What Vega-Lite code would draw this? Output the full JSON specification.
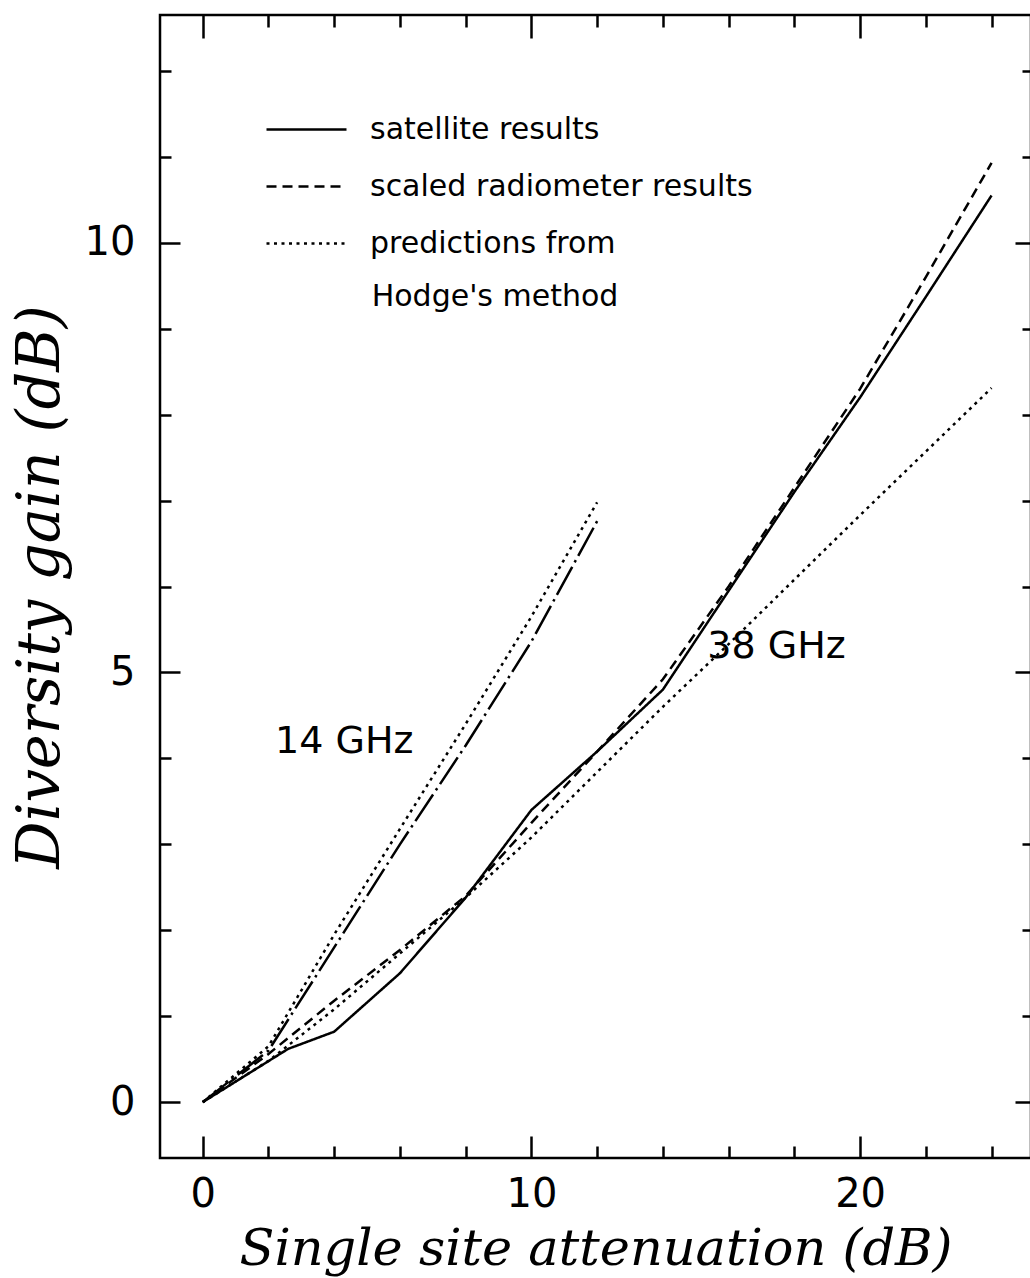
{
  "$schema": "https://vega.github.io/schema/vega-lite/v6.json",
  "width": 871,
  "height": 1143,
  "autosize": {"type": "none"},
  "padding": {"left": 160, "top": 15, "right": 0, "bottom": 120},
  "background": "white",
  "config": {
    "view": {"stroke": "black", "strokeWidth": 2.5},
    "axis": {"grid": false, "domain": false, "tickColor": "black", "tickWidth": 2.5, "labelColor": "black", "titleColor": "black", "labelFlush": false, "labelOverlap": false}
  },
  "resolve": {"axis": {"x": "independent", "y": "independent"}},
  "layer": [
    {
      "data": {"values": [
        {"freq": "38 GHz", "series": "satellite results", "atten": 0, "gain": 0},
        {"freq": "38 GHz", "series": "satellite results", "atten": 2.6, "gain": 0.62},
        {"freq": "38 GHz", "series": "satellite results", "atten": 4, "gain": 0.82},
        {"freq": "38 GHz", "series": "satellite results", "atten": 6, "gain": 1.5},
        {"freq": "38 GHz", "series": "satellite results", "atten": 8, "gain": 2.38},
        {"freq": "38 GHz", "series": "satellite results", "atten": 10, "gain": 3.4},
        {"freq": "38 GHz", "series": "satellite results", "atten": 12, "gain": 4.08},
        {"freq": "38 GHz", "series": "satellite results", "atten": 14, "gain": 4.8},
        {"freq": "38 GHz", "series": "satellite results", "atten": 16, "gain": 5.95},
        {"freq": "38 GHz", "series": "satellite results", "atten": 18, "gain": 7.1},
        {"freq": "38 GHz", "series": "satellite results", "atten": 20, "gain": 8.2},
        {"freq": "38 GHz", "series": "satellite results", "atten": 22, "gain": 9.37},
        {"freq": "38 GHz", "series": "satellite results", "atten": 24, "gain": 10.55},
        {"freq": "38 GHz", "series": "scaled radiometer results", "atten": 0, "gain": 0},
        {"freq": "38 GHz", "series": "scaled radiometer results", "atten": 2, "gain": 0.56},
        {"freq": "38 GHz", "series": "scaled radiometer results", "atten": 4, "gain": 1.18},
        {"freq": "38 GHz", "series": "scaled radiometer results", "atten": 6, "gain": 1.77},
        {"freq": "38 GHz", "series": "scaled radiometer results", "atten": 8, "gain": 2.4},
        {"freq": "38 GHz", "series": "scaled radiometer results", "atten": 10, "gain": 3.25},
        {"freq": "38 GHz", "series": "scaled radiometer results", "atten": 12, "gain": 4.08},
        {"freq": "38 GHz", "series": "scaled radiometer results", "atten": 14, "gain": 4.92},
        {"freq": "38 GHz", "series": "scaled radiometer results", "atten": 16, "gain": 6.0},
        {"freq": "38 GHz", "series": "scaled radiometer results", "atten": 18, "gain": 7.15},
        {"freq": "38 GHz", "series": "scaled radiometer results", "atten": 20, "gain": 8.3},
        {"freq": "38 GHz", "series": "scaled radiometer results", "atten": 22, "gain": 9.6},
        {"freq": "38 GHz", "series": "scaled radiometer results", "atten": 24, "gain": 10.93},
        {"freq": "38 GHz", "series": "predictions from", "atten": 0, "gain": 0},
        {"freq": "38 GHz", "series": "predictions from", "atten": 2, "gain": 0.48},
        {"freq": "38 GHz", "series": "predictions from", "atten": 4, "gain": 1.08},
        {"freq": "38 GHz", "series": "predictions from", "atten": 6, "gain": 1.73},
        {"freq": "38 GHz", "series": "predictions from", "atten": 8, "gain": 2.38},
        {"freq": "38 GHz", "series": "predictions from", "atten": 10, "gain": 3.08},
        {"freq": "38 GHz", "series": "predictions from", "atten": 12, "gain": 3.84},
        {"freq": "38 GHz", "series": "predictions from", "atten": 14, "gain": 4.6},
        {"freq": "38 GHz", "series": "predictions from", "atten": 16, "gain": 5.33},
        {"freq": "38 GHz", "series": "predictions from", "atten": 18, "gain": 6.08},
        {"freq": "38 GHz", "series": "predictions from", "atten": 20, "gain": 6.83},
        {"freq": "38 GHz", "series": "predictions from", "atten": 22, "gain": 7.57},
        {"freq": "38 GHz", "series": "predictions from", "atten": 24, "gain": 8.31},
        {"freq": "14 GHz", "series": "14 GHz results", "atten": 0, "gain": 0},
        {"freq": "14 GHz", "series": "14 GHz results", "atten": 2, "gain": 0.6},
        {"freq": "14 GHz", "series": "14 GHz results", "atten": 4, "gain": 1.8},
        {"freq": "14 GHz", "series": "14 GHz results", "atten": 6, "gain": 3.0},
        {"freq": "14 GHz", "series": "14 GHz results", "atten": 8, "gain": 4.15},
        {"freq": "14 GHz", "series": "14 GHz results", "atten": 10, "gain": 5.36},
        {"freq": "14 GHz", "series": "14 GHz results", "atten": 12, "gain": 6.76},
        {"freq": "14 GHz", "series": "predictions from", "atten": 0, "gain": 0},
        {"freq": "14 GHz", "series": "predictions from", "atten": 2, "gain": 0.65},
        {"freq": "14 GHz", "series": "predictions from", "atten": 4, "gain": 1.95},
        {"freq": "14 GHz", "series": "predictions from", "atten": 6, "gain": 3.18},
        {"freq": "14 GHz", "series": "predictions from", "atten": 8, "gain": 4.4},
        {"freq": "14 GHz", "series": "predictions from", "atten": 10, "gain": 5.65},
        {"freq": "14 GHz", "series": "predictions from", "atten": 12, "gain": 6.98}
      ]},
      "mark": {"type": "line", "color": "black"},
      "encoding": {
        "x": {
          "field": "atten", "type": "quantitative",
          "scale": {"domain": [-1.3, 25.2], "nice": false, "zero": false},
          "axis": {
            "orient": "bottom",
            "values": [0, 2, 4, 6, 8, 10, 12, 14, 16, 18, 20, 22, 24],
            "labelExpr": "datum.value % 10 === 0 ? datum.label : ''",
            "tickSize": {"condition": {"test": "datum.value % 10 === 0", "value": -22}, "value": -12},
            "labelPadding": 38,
            "labelFont": "DejaVu Sans", "labelFontSize": 40,
            "title": "Single site attenuation (dB)",
            "titleFont": "DejaVu Serif", "titleFontStyle": "italic", "titleFontWeight": "normal", "titleFontSize": 51,
            "titlePadding": 0
          }
        },
        "y": {
          "field": "gain", "type": "quantitative",
          "scale": {"domain": [-0.65, 12.65], "nice": false, "zero": false},
          "axis": {
            "orient": "left",
            "values": [0, 1, 2, 3, 4, 5, 6, 7, 8, 9, 10, 11, 12],
            "labelExpr": "datum.value % 5 === 0 ? datum.label : ''",
            "tickSize": {"condition": {"test": "datum.value % 5 === 0", "value": -20}, "value": -11},
            "labelPadding": 45,
            "labelFont": "DejaVu Sans", "labelFontSize": 40,
            "title": "Diversity gain (dB)",
            "titleFont": "DejaVu Serif", "titleFontStyle": "italic", "titleFontWeight": "normal", "titleFontSize": 59,
            "titlePadding": 14
          }
        },
        "strokeDash": {
          "field": "series", "type": "nominal",
          "scale": {
            "domain": ["satellite results", "scaled radiometer results", "predictions from", "14 GHz results"],
            "range": [[1, 0], [10, 6], [3, 4.5], [32, 5, 2.5, 5]]
          },
          "legend": {
            "orient": "none", "legendX": 105, "legendY": 73,
            "title": null,
            "values": ["satellite results", "scaled radiometer results", "predictions from"],
            "symbolType": "stroke", "symbolSize": 6400, "symbolStrokeWidth": 2.5, "symbolStrokeColor": "black",
            "labelFont": "DejaVu Sans", "labelFontSize": 30, "labelColor": "black", "labelOffset": 22,
            "rowPadding": -19, "labelLimit": 500
          }
        },
        "strokeWidth": {
          "field": "series", "type": "nominal",
          "scale": {
            "domain": ["satellite results", "scaled radiometer results", "predictions from", "14 GHz results"],
            "range": [2.5, 2.5, 3.2, 2.5]
          },
          "legend": null
        },
        "detail": {"field": "freq", "type": "nominal"}
      }
    },
    {
      "data": {"values": [
        {"label": "14 GHz", "atten": 2.2, "gain": 4.19},
        {"label": "38 GHz", "atten": 15.35, "gain": 5.3}
      ]},
      "mark": {"type": "text", "align": "left", "baseline": "middle", "font": "DejaVu Sans", "fontSize": 38, "color": "black"},
      "encoding": {
        "x": {"field": "atten", "type": "quantitative",
          "axis": {
            "orient": "top", "values": [0, 2, 4, 6, 8, 10, 12, 14, 16, 18, 20, 22, 24],
            "labels": false, "title": null,
            "tickSize": {"condition": {"test": "datum.value % 10 === 0", "value": -23}, "value": -12}
          }},
        "y": {"field": "gain", "type": "quantitative",
          "axis": {
            "orient": "right", "values": [0, 1, 2, 3, 4, 5, 6, 7, 8, 9, 10, 11, 12],
            "labels": false, "title": null,
            "tickSize": {"condition": {"test": "datum.value % 5 === 0", "value": -16}, "value": -9}
          }},
        "text": {"field": "label"}
      }
    },
    {
      "data": {"values": [
        {"label": "Hodge's method", "atten": 5.14, "gain": 9.37}
      ]},
      "mark": {"type": "text", "align": "left", "baseline": "middle", "font": "DejaVu Sans", "fontSize": 30, "color": "black"},
      "encoding": {
        "x": {"field": "atten", "type": "quantitative", "axis": null},
        "y": {"field": "gain", "type": "quantitative", "axis": null},
        "text": {"field": "label"}
      }
    }
  ]
}
